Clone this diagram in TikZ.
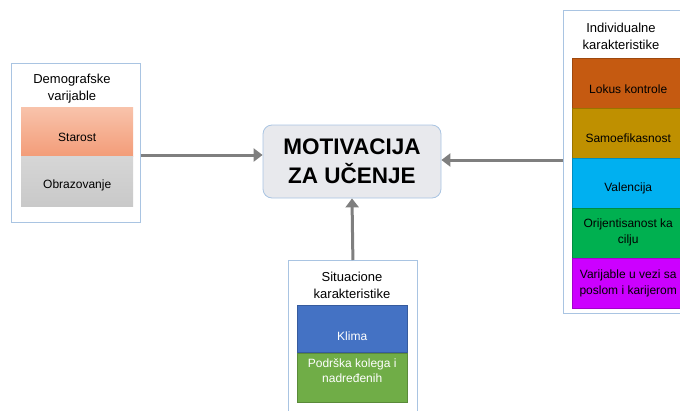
\documentclass[tikz,border=0pt]{standalone}
\usepackage{fontspec}
\setmainfont{Liberation Sans}
\usetikzlibrary{arrows.meta}
\definecolor{frameblue}{HTML}{A9C4E2}
\definecolor{arrgray}{HTML}{7F7F7F}
\definecolor{cStar}{HTML}{F39C78}
\definecolor{cStarTop}{HTML}{F8C3AB}
\definecolor{cObr}{HTML}{C9C9C9}
\definecolor{cObrTop}{HTML}{D6D6D6}
\definecolor{cKlima}{HTML}{4472C4}
\definecolor{cPod}{HTML}{70AD47}
\definecolor{cLok}{HTML}{C55A11}
\definecolor{cSam}{HTML}{BF9000}
\definecolor{cVal}{HTML}{00B0F0}
\definecolor{cOri}{HTML}{00B050}
\definecolor{cVar}{HTML}{CC00FF}
\definecolor{cMid}{HTML}{E8E9ED}
\tikzset{
  frame/.style={draw=frameblue, line width=0.8pt, fill=white},
  cell/.style={draw=#1!80!black, line width=0.4pt, fill=#1, minimum width=112pt, minimum height=50pt, inner sep=0pt},
  celltext/.style={align=center, font=\fontsize{12}{16.5}\selectfont, inner sep=0pt},
  ttl/.style={align=center, font=\fontsize{13}{17}\selectfont, inner sep=0pt},
  conn/.style={draw=arrgray, line width=3pt, -{Triangle[length=9pt,width=13pt]}},
}
\begin{document}
\begin{tikzpicture}[x=1pt,y=-1pt]
\useasboundingbox (0,0) rectangle (680,410);
% left frame
\node[frame, minimum width=129pt, minimum height=159pt, anchor=north west, inner sep=0pt] (lf) at (11,63) {};
\node[ttl] (lt) at (72,88.5) {Demografske\\varijable};
\node[cell=cStar, draw=none, top color=cStarTop, bottom color=cStar, minimum height=49pt, anchor=north west] (c1) at (21,107) {};
\node[celltext] (c1t) at ([yshift=-6pt]c1.center) {Starost};
\node[cell=cObr, draw=none, top color=cObrTop, bottom color=cObr, anchor=north west] (c2) at (21,156) {};
\node[celltext] (c2t) at ([yshift=-4pt]c2.center) {Obrazovanje};
% center
\node[draw=frameblue, line width=0.8pt, fill=cMid, rounded corners=9pt, minimum width=178pt, minimum height=73pt, align=center, font=\fontsize{22.5}{29}\selectfont\bfseries] (m) at (352,161.5) {MOTIVACIJA\\ZA UČENJE};
% bottom frame
\node[frame, minimum width=129pt, minimum height=152pt, anchor=north west, inner sep=0pt] (bf) at (288,260) {};
\node[ttl] (bt) at (352,285) {Situacione\\karakteristike};
\node[cell=cKlima, minimum width=110pt, minimum height=47pt, anchor=north west] (k1) at (297,305) {};
\node[celltext, text=white] (k1t) at ([yshift=-8pt]k1.center) {Klima};
\node[cell=cPod, minimum width=110pt, minimum height=49pt, anchor=north west] (k2) at (297,353) {};
\node[celltext, text=white, font=\fontsize{12}{15}\selectfont] (k2t) at ([yshift=7pt]k2.center) {Podrška kolega i\\nadređenih};
% right frame
\node[frame, minimum width=117pt, minimum height=303pt, anchor=north west, inner sep=0pt] (rf) at (563,10) {};
\node[ttl] (rt) at (621,36.5) {Individualne\\karakteristike};
\node[cell=cLok, anchor=north west] (r1) at (572,58) {};
\node[celltext] (r1t) at ([yshift=-6pt]r1.center) {Lokus kontrole};
\node[cell=cSam, anchor=north west] (r2) at (572,108) {};
\node[celltext] (r2t) at ([yshift=-5pt]r2.center) {Samoefikasnost};
\node[cell=cVal, anchor=north west] (r3) at (572,158) {};
\node[celltext] (r3t) at ([yshift=-5pt]r3.center) {Valencija};
\node[cell=cOri, anchor=north west] (r4) at (572,208) {};
\node[celltext] (r4t) at ([yshift=1pt]r4.center) {Orijentisanost ka\\cilju};
\node[cell=cVar, anchor=north west] (r5) at (572,258) {};
\node[celltext] (r5t) at (r5.center) {Varijable u vezi sa\\poslom i karijerom};
% connectors
\draw[conn] (lf.east |- 0,155) -- (m.west |- 0,155);
\draw[conn] (rf.west |- 0,160) -- (m.east |- 0,160);
\draw[conn] (bf.north) -- (m.south);
\end{tikzpicture}
\end{document}
